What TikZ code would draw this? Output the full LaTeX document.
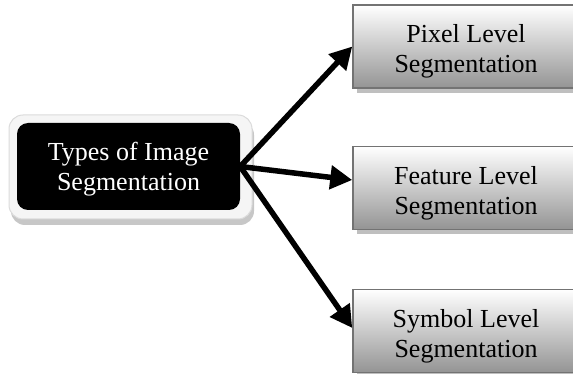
\documentclass[tikz,border=0pt]{standalone}
\usepackage{fontspec}
\setmainfont{Liberation Serif}
\usetikzlibrary{arrows.meta}
\usetikzlibrary{shadows}

\begin{document}
\begin{tikzpicture}[x=1pt,y=-1pt,
  boxfont/.style={font=\fontsize{26}{30}\selectfont},
  framebox/.style={rounded corners=14pt, fill=black!4, draw=black!14, line width=1pt,
    minimum width=243pt, minimum height=104pt,
    drop shadow={shadow xshift=2pt, shadow yshift=-6pt, fill=black!22, opacity=1}},
  typebox/.style={boxfont, rounded corners=11pt, fill=black, text=white, text height=53pt,
    minimum width=223pt, minimum height=87pt, align=center},
  levelbox/.style={boxfont, top color=white, bottom color=black!42, draw=black!55, line width=1.5pt,
    text height=58pt, minimum width=226pt, minimum height=83pt, align=center,
    drop shadow={shadow xshift=4pt, shadow yshift=-5pt, fill=black!25, opacity=1}},
  branch/.style={line width=5.5pt, -{Triangle[length=22pt,width=23pt]}}]
\useasboundingbox (0,0) rectangle (573,374);

\node[framebox] (frame) at (130.5,167) {};
\node[typebox] (types) at (128.5,166.5) {Types of Image\\Segmentation};

\node[levelbox] (pixel) at (466,46.5) {Pixel Level\\Segmentation};
\node[levelbox] (feature) at (466,188) {Feature Level\\Segmentation};
\node[levelbox] (symbol) at (466,331) {Symbol Level\\Segmentation};

\foreach \dest/\dy in {pixel/0, feature/8, symbol/3} \draw[branch] (types.east) -- ([yshift=\dy]\dest.west);

\end{tikzpicture}
\end{document}
